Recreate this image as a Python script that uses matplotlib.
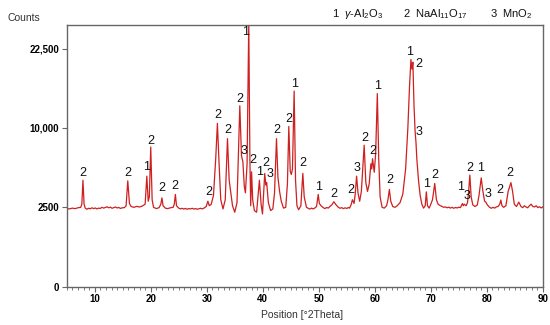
import matplotlib
matplotlib.use("Agg")
import matplotlib.pyplot as plt
import numpy as np
from matplotlib.ticker import MultipleLocator, NullLocator

plt.rcParams['font.family'] = ['Liberation Sans', 'DejaVu Sans']
plt.rcParams['mathtext.fontset'] = 'custom'
plt.rcParams['mathtext.rm'] = 'Liberation Sans'
plt.rcParams['mathtext.it'] = 'Liberation Sans:italic'

# XRD trace: position (deg 2theta) and counts
two_theta = [
    5.0, 5.5, 6.0, 6.5, 7.0, 7.5, 7.7, 7.9, 8.1, 8.3,
    8.6, 8.9, 9.2, 9.5, 9.8, 10.1, 10.4, 10.7, 11.0, 11.3, 11.6, 11.9, 12.2,
    12.5, 12.8, 13.1, 13.4, 13.7, 14.0, 14.3, 14.6, 14.9,
    15.3, 15.6, 15.9, 16.2, 16.5,
    17.0, 17.5, 18.0, 18.5, 19.0, 19.3, 19.55, 19.75, 20.0, 20.25, 20.5, 21.0,
    21.5, 21.8, 22.0, 22.2, 22.6, 23.0, 23.5, 24.0, 24.2, 24.4, 24.6,
    25.0, 25.3, 25.6, 25.9, 26.2, 26.5, 26.8, 27.1, 27.4, 27.7, 28.0, 28.3,
    28.6, 28.9, 29.2, 29.5,
    29.9, 30.2, 30.45, 30.8,
    31.2, 31.6, 31.9, 32.2, 32.5, 32.9, 33.3, 33.7, 34.0, 34.3, 34.6, 35.0, 35.4,
    35.9, 36.2, 36.45, 36.7, 36.9, 37.2, 37.5, 37.7, 37.85, 38.0, 38.2, 38.5,
    38.9, 39.4, 39.7, 39.95, 40.35, 40.55, 40.7, 41.0, 41.4, 41.8, 42.1, 42.45,
    42.7, 43.0, 43.3, 43.7, 44.1, 44.4, 44.65, 44.9, 45.1, 45.3, 45.6, 45.85,
    46.1, 46.4, 46.8, 47.15, 47.4, 47.8, 48.1, 48.4, 48.7, 49.0, 49.3, 49.6, 49.9, 50.1,
    50.4, 50.8, 51.1, 51.4, 51.7, 52.0, 52.3, 52.7, 53.1, 53.5, 53.8, 54.1, 54.4,
    54.7, 55.0, 55.3, 55.5,
    55.8, 56.0, 56.3, 56.5, 56.75, 57.0, 57.3, 57.6, 58.1, 58.4, 58.7, 59.0,
    59.3, 59.45, 59.6, 59.9, 60.15, 60.45, 60.7, 60.95, 61.3, 61.7, 62.1, 62.35,
    62.6, 62.85, 63.2, 63.6, 64.0, 64.5, 65.0, 65.5, 65.9, 66.2, 66.45, 66.62,
    66.8, 67.0, 67.2, 67.35, 67.5, 67.8, 68.1, 68.4, 68.7, 69.0, 69.2, 69.4,
    69.7, 70.0, 70.3, 70.7, 71.0, 71.3, 71.7,
    72.0, 72.3, 72.6, 72.9, 73.2, 73.5, 73.8, 74.1, 74.4, 74.7, 75.0,
    75.3, 75.5, 75.66, 75.8, 76.0, 76.15, 76.3, 76.55, 76.75, 76.97, 77.2,
    77.5, 77.9, 78.3, 78.6, 79.0, 79.3, 79.6, 79.8, 80.1, 80.5, 80.8, 81.1, 81.4,
    81.7, 82.0, 82.3, 82.5, 82.7, 83.0, 83.4, 83.8, 84.3, 84.6, 84.9, 85.3, 85.7,
    86.1, 86.4, 86.7, 87.0, 87.3, 87.6, 87.9, 88.2, 88.5, 88.8, 89.1, 89.4, 89.7, 90.0,
]
counts = [
    2430, 2400, 2450, 2420, 2470, 2500, 2700, 4500, 2700, 2450,
    2380, 2440, 2410, 2470, 2420, 2460, 2400, 2450, 2430, 2500, 2450, 2490, 2530,
    2470, 2510, 2440, 2480, 2520, 2460, 2490, 2430, 2470,
    2480, 2600, 4450, 2750, 2550,
    2500, 2560, 2520, 2580, 2700, 4850, 2900, 3200, 7750, 3000, 2500, 2420,
    2480, 2700, 3130, 2600, 2450, 2420, 2470, 2500, 2700, 3380, 2600,
    2450, 2400, 2440, 2390, 2430, 2380, 2420, 2400, 2440, 2390, 2420, 2380,
    2410, 2440, 2400, 2450,
    2550, 2900, 2600, 2700,
    3300, 6500, 10600, 6000, 3000, 2400, 3000, 8700, 4500, 3500, 2600, 2200, 2800,
    13000, 6800, 6200, 4000, 3500, 6000, 27800, 6500, 2600, 5240, 3000, 2300,
    2200, 4500, 2700, 2100, 5090, 4100, 4300, 2800, 2300, 2400, 3500, 8700,
    4800, 3600, 2900, 2450, 2500, 4200, 10200, 5300, 5000, 5500, 15200, 4500,
    2600, 2350, 2600, 5100, 3200, 2500, 2440, 2390, 2450, 2400, 2460, 2550, 3380, 2750,
    2600, 2480, 2420, 2490, 2450, 2560, 2650, 2860, 2650, 2500, 2440, 2480, 2420,
    2470, 2430, 2490, 2450,
    2700, 3000, 2750, 3400, 4850, 3500, 2900, 3600, 7950, 4300, 3600, 4200,
    6000, 5500, 6500, 5200, 7000, 14800, 6500, 3200, 2500, 2450, 2600, 3000,
    3750, 2900, 2550, 2500, 2600, 2800, 3400, 5500, 10000, 16000, 20500, 18800,
    20000, 13000, 9500, 8300, 6500, 4500, 3300, 2700, 2450, 2600, 3570, 2600,
    2450, 2700, 3000, 4230, 3000, 2700, 2600,
    2560, 2500, 2530, 2470, 2510, 2450, 2500, 2440, 2490, 2460, 2510,
    2480, 2650, 2750, 2600, 2700, 2650, 2600, 2800, 3600, 4950, 3200,
    2650, 2550, 2650, 3300, 4700, 3600, 2900, 2850, 2650, 2500, 2440, 2500, 2450,
    2530, 2550, 2700, 2980, 2600, 2500, 2600, 3600, 4300, 3600, 2700, 2550, 2840,
    2550, 2480, 2600, 2520, 2470, 2600, 2700, 2560, 2520, 2600, 2480, 2540, 2460, 2530,
]

# peak labels: phase number and where it sits
label_theta = [7.93, 15.88, 19.19, 19.99, 22.0, 24.32, 30.28, 31.94, 33.73, 35.92,
               36.56, 36.9, 38.28, 39.35, 40.47, 41.24, 42.44, 44.64, 45.61, 47.15,
               50.0, 52.7, 55.8, 56.75, 58.13, 59.56, 60.46, 62.7, 66.29, 67.79,
               67.97, 69.22, 70.71, 75.35, 76.4, 76.97, 78.94, 80.13, 82.39, 84.18]
label_counts = [5120, 5120, 5680, 8420, 3860, 4015, 3550, 11690, 9740, 13975,
                7300, 25690, 6360, 5240, 6030, 5030, 9740, 11150, 16300, 6030,
                3910, 3400, 3700, 5550, 8730, 7330, 15980, 4510, 21800, 19630,
                9450, 4180, 4940, 3950, 3250, 5550, 5550, 3380, 3700, 5100]
label_text = ['2', '2', '1', '2', '2', '2', '2', '2', '2', '2',
              '3', '1', '2', '1', '2', '3', '2', '2', '1', '2',
              '1', '2', '2', '3', '2', '2', '1', '2', '1', '2',
              '3', '1', '2', '1', '3', '2', '1', '3', '2', '2']

y_ticks = [0, 2500, 10000, 22500]
y_ticklabels = ['0', '2500', '10,000', '22,500']

legend_items = [r'1  $\gamma$-Al$_2$O$_3$', r'2  NaAl$_{11}$O$_{17}$', r'3  MnO$_2$']

fig = plt.figure(figsize=(5.5, 3.25), dpi=100)
ax = fig.add_axes([0.1213, 0.118, 0.8657, 0.8066])

ax.set_yscale('function', functions=(lambda v: np.sqrt(np.clip(v, 0, None)),
                                     lambda v: np.square(v)))
ax.plot(two_theta, counts, color='#cf1f1f', lw=0.9)

for t, c, s in zip(label_theta, label_counts, label_text):
    ax.text(t, c, s, fontsize=9, ha='center', va='center', color='#111111')

ax.set_xlim(5, 90)
ax.set_ylim(0, 27300)
ax.set_yticks(y_ticks)
ax.set_yticklabels(y_ticklabels)
ax.yaxis.set_minor_locator(NullLocator())
ax.xaxis.set_major_locator(MultipleLocator(10))
ax.xaxis.set_minor_locator(MultipleLocator(1))

for lab in ax.get_xticklabels() + ax.get_yticklabels():
    lab.set_fontweight('bold')
ax.tick_params(axis='both', which='major', labelsize=7, length=3.5, width=0.8,
               color='#666666', pad=2)
ax.tick_params(axis='x', which='minor', length=2, width=0.6, color='#666666')
for sp in ax.spines.values():
    sp.set_color('#666666')
    sp.set_linewidth(1.0)

ax.set_xlabel('Position [°2Theta]', fontsize=7.5, color='#333333')
ax.xaxis.set_label_coords(0.495, -0.09)
fig.text(7 / 550, 1 - 18 / 325, 'Counts', fontsize=7.5, color='#333333', va='center')

for xpos, item in zip([332, 403, 490], legend_items):
    fig.text(xpos / 550, 1 - 14 / 325, item, fontsize=8, va='center', color='#111111')

fig.savefig('out.png', dpi=100)
